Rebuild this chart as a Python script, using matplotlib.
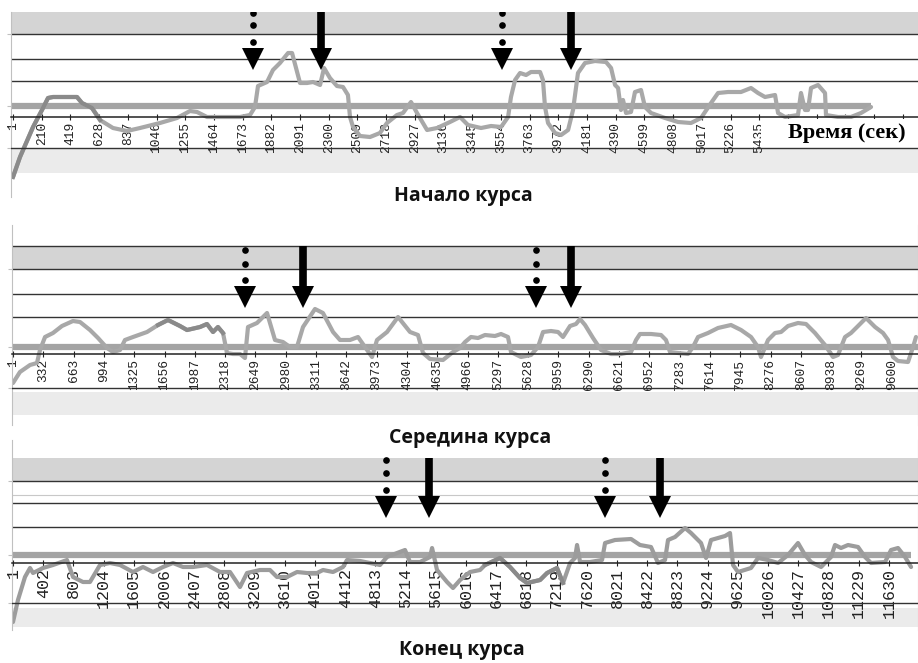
import matplotlib
matplotlib.use("Agg")
import matplotlib.pyplot as plt
import numpy as np

# ---------------- data ----------------
# Panel 1: "Начало курса"
p1_time = [1, 52, 147, 212, 256, 292, 394, 467, 503, 576,
           635, 729, 831, 926, 1071, 1195, 1290, 1341, 1414, 1508,
           1654, 1727, 1763, 1785, 1851, 1894, 1945, 2004, 2033, 2091,
           2142, 2186, 2237, 2266, 2309, 2360, 2404, 2440, 2455, 2477,
           2528, 2601, 2673, 2724, 2797, 2841, 2899, 2943, 3016, 3089,
           3183, 3256, 3314, 3409, 3482, 3555, 3606, 3627, 3657, 3693,
           3737, 3773, 3839, 3860, 3875, 3897, 3948, 3992, 4043, 4079,
           4115, 4166, 4239, 4319, 4356, 4385, 4407, 4428, 4443, 4465,
           4501, 4530, 4574, 4603, 4647, 4749, 4844, 4938, 5011, 5084,
           5135, 5208, 5302, 5375, 5426, 5477, 5550, 5572, 5623, 5717,
           5739, 5768, 5790, 5812, 5863, 5914, 5921, 6009, 6103, 6176,
           6249]
p1_level = [-60, -40, -10, 7, 19, 20, 20, 20, 14, 9,
            -3, -11, -14, -11, -6, -1, 6, 5, 0, 0,
            0, 2, 10, 31, 35, 47, 54, 64, 64, 34,
            34, 35, 32, 49, 39, 31, 30, 22, 0, -10,
            -19, -20, -16, -6, 2, 4, 15, 4, -13, -11,
            -5, 0, -8, -11, -9, -10, 0, 20, 37, 44,
            42, 45, 45, 37, 10, -6, -16, -18, -13, 7,
            44, 54, 56, 55, 49, 32, 29, 7, 17, 4,
            5, 25, 27, 10, 4, -1, -5, -6, -1, 14,
            24, 25, 25, 29, 24, 20, 22, 4, 0, 2,
            24, 7, 7, 29, 32, 24, 2, 0, 0, 4,
            10]
p1_threshold = 11
p1_threshold_end = 6249
p1_ticks = list(range(1, 6600, 209))
p1_last_label = 5435          # labels further right are hidden under the axis title
p1_dotted = [1749, 3562]
p1_solid = [2244, 4064]

# Panel 2: "Середина курса"
p2_time = [1, 77, 187, 263, 296, 351, 438, 536, 656, 733,
           842, 930, 1028, 1093, 1170, 1224, 1312, 1465, 1585, 1694,
           1825, 1902, 2044, 2120, 2186, 2240, 2295, 2339, 2404, 2481,
           2535, 2568, 2666, 2776, 2863, 2950, 3027, 3103, 3169, 3300,
           3387, 3497, 3573, 3682, 3770, 3846, 3923, 3977, 4087, 4207,
           4338, 4425, 4480, 4556, 4698, 4808, 4884, 4939, 5004, 5081,
           5157, 5266, 5332, 5408, 5441, 5550, 5660, 5736, 5791, 5878,
           5955, 6009, 6086, 6151, 6195, 6250, 6337, 6424, 6534, 6643,
           6752, 6807, 6850, 6971, 7080, 7134, 7178, 7265, 7375, 7429,
           7484, 7593, 7702, 7844, 7954, 8063, 8139, 8172, 8249, 8325,
           8391, 8467, 8576, 8664, 8762, 8871, 8959, 9013, 9090, 9155,
           9232, 9319, 9418, 9505, 9560, 9614, 9669, 9778, 9833, 9865]
p2_level = [-29, -18, -11, -9, 4, 17, 21, 28, 33, 32,
            24, 16, 6, 2, 4, 14, 17, 22, 29, 34,
            28, 24, 27, 30, 22, 27, 21, 1, 0, 0,
            -4, 27, 31, 41, 14, 12, 7, 7, 27, 45,
            41, 22, 14, 14, 17, 7, -3, 14, 22, 37,
            22, 19, 1, -5, -6, 2, 6, 12, 17, 16,
            19, 18, 20, 17, 2, -3, -1, 7, 22, 23,
            22, 17, 28, 30, 35, 29, 16, 4, 0, 0,
            2, 14, 20, 20, 19, 14, 2, 1, 0, 7,
            17, 21, 26, 29, 24, 17, 7, -3, 14, 21,
            22, 28, 31, 30, 21, 9, -3, -1, 17, 21,
            28, 36, 27, 21, 14, -3, -7, -8, 7, 17]
p2_threshold = 7
p2_threshold_end = 9887
p2_ticks = list(range(1, 9880, 331))
p2_dotted = [2535, 5714]
p2_solid = [3169, 6097]
p2_dark = (1585, 2295)

# Panel 3: "Конец курса"
p3_time = [1, 67, 160, 227, 267, 399, 532, 718, 798, 930,
           1023, 1156, 1289, 1422, 1594, 1727, 1860, 1993, 2125, 2258,
           2391, 2577, 2750, 2882, 3015, 3108, 3281, 3413, 3506, 3639,
           3772, 3905, 4038, 4117, 4250, 4383, 4436, 4609, 4741, 4874,
           4967, 5100, 5206, 5272, 5405, 5538, 5565, 5631, 5764, 5843,
           5937, 6069, 6202, 6268, 6467, 6600, 6733, 6826, 6999, 7092,
           7224, 7304, 7397, 7463, 7490, 7530, 7662, 7822, 7862, 7994,
           8207, 8326, 8472, 8565, 8658, 8698, 8791, 8924, 9003, 9136,
           9203, 9269, 9455, 9521, 9561, 9627, 9800, 9893, 10026, 10159,
           10291, 10424, 10517, 10597, 10730, 10862, 10915, 10995, 11088, 11221,
           11314, 11394, 11580, 11659, 11752, 11845, 11925]
p3_level = [-59, -37, -14, -5, -10, -5, -2, 3, -14, -19,
            -19, -2, 0, -2, -9, -4, -9, -4, 0, -4,
            -4, -2, -9, -9, -24, -10, -7, -7, -14, -14,
            -9, -10, -10, -7, -9, -4, 3, 2, 0, -2,
            6, 10, 13, 1, 1, 6, 15, -7, -19, -25,
            -17, -9, -7, -2, 5, -4, -15, -20, -17, -10,
            -5, -20, 0, 5, 18, 1, 1, 3, 20, 23,
            24, 18, 16, 0, 3, 23, 26, 35, 30, 20,
            5, 23, 27, 30, -2, -9, -5, 5, 3, 0,
            8, 20, 8, 1, -4, 6, 18, 15, 18, 16,
            6, 0, 1, 13, 15, 6, -4]
p3_threshold = 8
p3_threshold_end = 11925
p3_ticks = list(range(1, 12010, 401))
p3_dotted = [4954, 7862]
p3_solid = [5525, 8592]
p3_dark = (6268, 7304)

titles = ["Начало курса", "Середина курса", "Конец курса"]
x_label = "Время (сек)"

# ---------------- drawing ----------------
W, H = 918, 663
fig = plt.figure(figsize=(W / 100, H / 100), dpi=100)


def px_axes(left, top, right, bottom):
    return fig.add_axes([left / W, 1 - bottom / H, (right - left) / W, (bottom - top) / H])


def panel(ax, xlim, ylim, ticks, fs, t, v, top_band, low_band, grid, bottom_line,
          thr, thr_end, sig_color, dark, dotted, solid, dots_y, head_c, shaft_top,
          faint=None, top_line=False, right_spine=False, last_label=None):
    ax.set_xlim(xlim)
    ax.set_ylim(ylim)
    ax.set_facecolor('none')
    ax.spines['top'].set_visible(False)
    ax.spines['right'].set_visible(right_spine)
    ax.spines['right'].set_color('#c8c8c8')
    ax.spines['left'].set_color('#c0c0c0')
    ax.spines['bottom'].set_position(('data', 0))
    ax.spines['bottom'].set_color('#222222')
    ax.spines['bottom'].set_linewidth(1.1)
    ax.spines['bottom'].set_zorder(2.6)
    ax.set_yticks([grid[0], thr, bottom_line])
    ax.set_yticklabels([])
    ax.tick_params(axis='y', length=3, color='#c0c0c0')
    ax.set_xticks(ticks)
    labels = [str(k) if (last_label is None or k <= last_label) else '' for k in ticks]
    ax.set_xticklabels(labels, rotation=90, family='Liberation Mono',
                       fontsize=fs, color='#222222')
    ax.tick_params(axis='x', direction='inout', length=5, width=0.8, pad=1, color='#222222')
    ax.axhspan(top_band[0], top_band[1], color='#d4d4d4', lw=0, zorder=0.5)
    ax.axhspan(low_band[0], low_band[1], color='#ebebeb', lw=0, zorder=0.5)
    if faint is not None:
        ax.axhline(faint, color='#c8c8c8', lw=0.8, zorder=0.9)
    for g in grid:
        ax.axhline(g, color='#333333', lw=1.0, zorder=1)
    if top_line:
        ax.axhline(top_band[1], color='#333333', lw=1.0, zorder=1)
    ax.axhline(bottom_line, color='#333333', lw=1.0, zorder=2.6)
    ax.plot([xlim[0], thr_end], [thr, thr], color='#a4a4a4', lw=4.5,
            solid_capstyle='butt', zorder=1.6)
    ta = np.array(t)
    va = np.array(v)
    ax.plot(ta, va, color=sig_color, lw=3, zorder=2, solid_joinstyle='round',
            solid_capstyle='round')
    if dark is not None:
        m = (ta >= dark[0]) & (ta <= dark[1])
        ax.plot(ta[m], va[m], color='#8a8a8a', lw=3, zorder=2.1, solid_joinstyle='round')
    for x in dotted:
        ax.plot([x] * len(dots_y), dots_y, 'o', color='black', ms=4.8, mew=0, zorder=5)
        ax.plot([x], [head_c], marker='v', color='black', ms=15.5, mew=0, zorder=5)
    for x in solid:
        ax.plot([x, x], [shaft_top, head_c], color='black', lw=5.5,
                solid_capstyle='butt', zorder=5)
        ax.plot([x], [head_c], marker='v', color='black', ms=15.5, mew=0, zorder=5)


# Panel 1
ax1 = px_axes(11, 12, 918, 197)
panel(ax1, (-13.6, 6591), (-80, 105), p1_ticks, 9.3, p1_time, p1_level,
      (83, 105), (-56, -31), [83, 58, 36], -31, p1_threshold, p1_threshold_end,
      '#a8a8a8', (1, 635), p1_dotted, p1_solid, [104, 92, 75], 58, 106,
      last_label=p1_last_label)
ax1.fill_between([5445, 6700], -30.5, -2, color='white', lw=0, zorder=2.2)
ax1.text(6075, -16, x_label, family='Liberation Serif', fontweight='bold',
         fontsize=16, ha='center', va='center', zorder=6)

# Panel 2
ax2 = px_axes(12, 225, 918, 425)
panel(ax2, (-9.9, 9887), (-71, 129), p2_ticks, 9.3, p2_time, p2_level,
      (85, 108), (-61, -38), [85, 60, 37], -34, p2_threshold, p2_threshold_end,
      '#a8a8a8', p2_dark, p2_dotted, p2_solid, [104, 90, 74], 57, 108,
      top_line=True, right_spine=True)

# Panel 3
ax3 = px_axes(12, 440, 918, 630)
panel(ax3, (-12.3, 12017), (-67, 123), p3_ticks, 12, p3_time, p3_level,
      (82, 105), (-64, -45), [82, 60, 36], -40, p3_threshold, p3_threshold_end,
      '#9c9c9c', p3_dark, p3_dotted, p3_solid, [103, 90, 73], 56, 105,
      faint=68, right_spine=True)

title_pos = [(463, 196), (470, 438), (462, 650)]
for (x, y), s in zip(title_pos, titles):
    fig.text(x / W, 1 - y / H, s, family='Open Sans', fontweight='bold',
             fontsize=14, ha='center', va='center', color='#111111')

fig.savefig('out.png', dpi=100)
